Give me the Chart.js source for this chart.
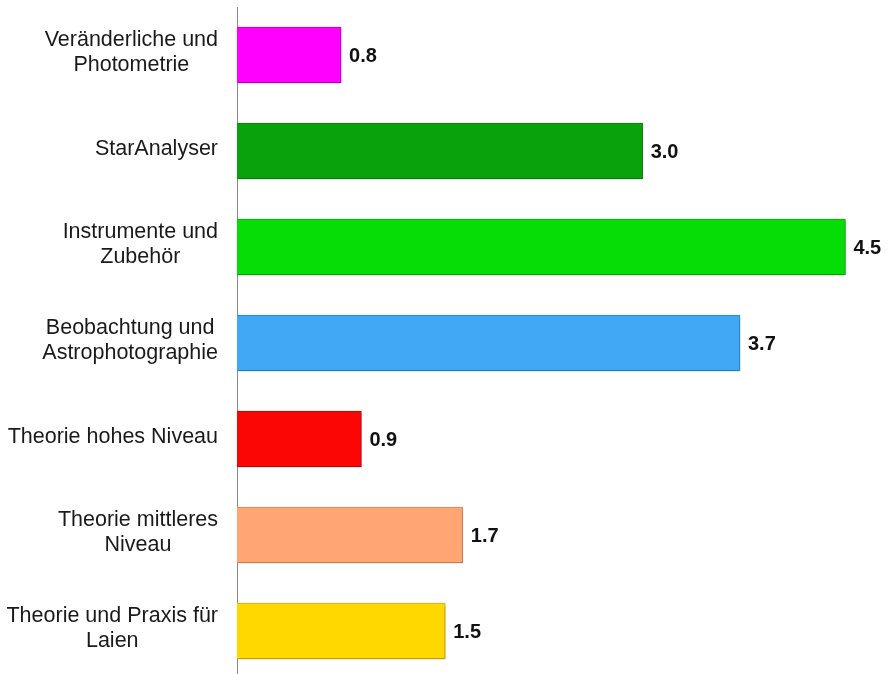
<!DOCTYPE html>
<html>
<head>
<meta charset="utf-8">
<script src="https://cdn.jsdelivr.net/npm/chart.js@4"></script>
<style>
  html, body { margin: 0; padding: 0; background: #fff; overflow: hidden; }
  #wrap { width: 888px; height: 680px; }
</style>
</head>
<body>
<div id="wrap"><canvas id="chart"></canvas></div>
<script>
// categories (top to bottom) and values
const categories = [
    ["Veränderliche und", "Photometrie"],
    ["StarAnalyser"],
    ["Instrumente und", "Zubehör"],
    ["Beobachtung und", "Astrophotographie"],
    ["Theorie hohes Niveau"],
    ["Theorie mittleres", "Niveau"],
    ["Theorie und Praxis für", "Laien"]
];
const values = [0.77, 3.0, 4.5, 3.72, 0.92, 1.67, 1.54];
const barColors = ["#ff00ff", "#0aa20a", "#06dc06", "#3fa9f5", "#fc0505", "#ffa673", "#ffd800"];
const barEdges = ["#c000c0", "#078007", "#05b005", "#2f86c8", "#c80404", "#d8875a", "#d4b000"];

// category labels, right aligned block, lines centered within it
const labelPlugin = {
    id: "catLabels",
    afterDraw(chart) {
        const ctx = chart.ctx;
        const yScale = chart.scales.y;
        const right = 218;
        const lineH = 25;
        ctx.save();
        ctx.font = "21.5px 'Liberation Sans', Arial, sans-serif";
        ctx.fillStyle = "#1a1a1a";
        ctx.textAlign = "center";
        ctx.textBaseline = "middle";
        categories.forEach((lines, i) => {
            const cy = yScale.getPixelForValue(i) - 2;
            const w = Math.max(...lines.map(l => ctx.measureText(l).width));
            const cx = right - w / 2;
            const top = cy - (lines.length - 1) * lineH / 2;
            lines.forEach((l, j) => ctx.fillText(l, cx, top + j * lineH));
        });
        ctx.restore();
    }
};

// soft shadow under the bars
const shadowPlugin = {
    id: "barShadow",
    beforeDatasetsDraw(chart) {
        const ctx = chart.ctx;
        ctx.save();
        ctx.shadowColor = "rgba(0,0,0,0.28)";
        ctx.shadowBlur = 3;
        ctx.shadowOffsetX = 1;
        ctx.shadowOffsetY = 2;
    },
    afterDatasetsDraw(chart) {
        chart.ctx.restore();
    }
};

// value labels at bar ends
const valuePlugin = {
    id: "valueLabels",
    afterDatasetsDraw(chart) {
        const ctx = chart.ctx;
        const meta = chart.getDatasetMeta(0);
        ctx.save();
        ctx.font = "bold 20px 'Liberation Sans', Arial, sans-serif";
        ctx.fillStyle = "#111";
        ctx.textAlign = "left";
        ctx.textBaseline = "middle";
        meta.data.forEach((bar, i) => {
            ctx.fillText(values[i].toFixed(1), bar.x + 8, bar.y + 1);
        });
        ctx.restore();
    }
};

new Chart(document.getElementById("chart"), {
    type: "bar",
    data: {
        labels: categories,
        datasets: [{
            data: values,
            backgroundColor: barColors,
            borderColor: barEdges,
            borderWidth: 1,
            borderSkipped: "left",
            barThickness: 56
        }]
    },
    options: {
        indexAxis: "y",
        responsive: true,
        maintainAspectRatio: false,
        animation: false,
        layout: { padding: { top: 7, bottom: 1, left: 0, right: 2 } },
        plugins: {
            legend: { display: false },
            tooltip: { enabled: false }
        },
        scales: {
            x: {
                display: false,
                min: 0,
                max: 4.8
            },
            y: {
                grid: { display: false },
                border: { display: true, color: "#8a8a8a", width: 1 },
                ticks: { display: false },
                afterFit(scale) { scale.width = 237; }
            }
        }
    },
    plugins: [labelPlugin, shadowPlugin, valuePlugin]
});
</script>
</body>
</html>
